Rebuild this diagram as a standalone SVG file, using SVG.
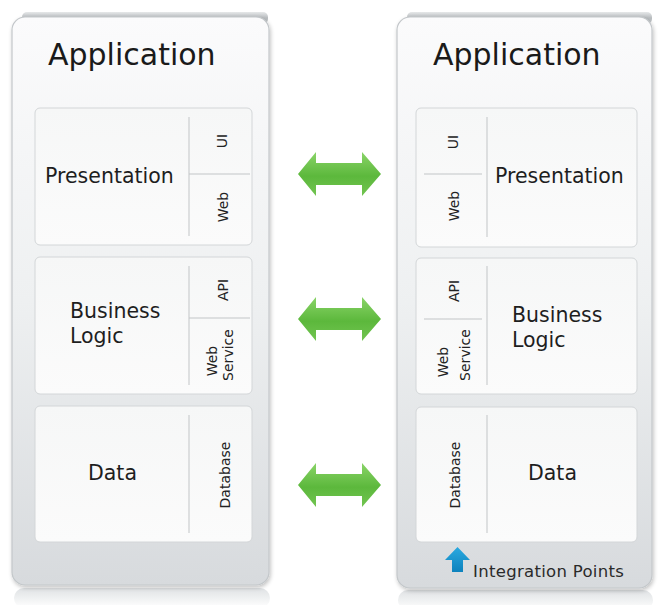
<svg xmlns="http://www.w3.org/2000/svg" width="658" height="605" viewBox="0 0 658 605">
<defs>
  <linearGradient id="panelGrad" x1="0" y1="0" x2="0" y2="1">
    <stop offset="0" stop-color="#fbfbfc"/>
    <stop offset="0.5" stop-color="#eef0f1"/>
    <stop offset="1" stop-color="#d7dadd"/>
  </linearGradient>
  <linearGradient id="topBand" x1="0" y1="0" x2="0" y2="1">
    <stop offset="0" stop-color="#e6e8e9"/>
    <stop offset="0.5" stop-color="#b8bcbf"/>
    <stop offset="1" stop-color="#c9cdd0"/>
  </linearGradient>
  <linearGradient id="reflect" x1="0" y1="0" x2="0" y2="1">
    <stop offset="0" stop-color="#dfe2e4"/>
    <stop offset="1" stop-color="#ffffff"/>
  </linearGradient>
  <linearGradient id="boxGrad" x1="0" y1="0" x2="0" y2="1">
    <stop offset="0" stop-color="#f6f7f7"/>
    <stop offset="1" stop-color="#fbfbfb"/>
  </linearGradient>
  <linearGradient id="greenGrad" x1="0" y1="0" x2="0" y2="1">
    <stop offset="0" stop-color="#8ad468"/>
    <stop offset="0.55" stop-color="#5cb83c"/>
    <stop offset="1" stop-color="#72c451"/>
  </linearGradient>
  <linearGradient id="blueGrad" x1="0" y1="0" x2="0" y2="1">
    <stop offset="0" stop-color="#2aa9e0"/>
    <stop offset="1" stop-color="#0d82bd"/>
  </linearGradient>
  <path id="dblArrow" d="M-41,0 L-23,-22 L-23,-11 L23,-11 L23,-22 L42,0 L23,22 L23,11 L-23,11 L-23,22 Z"/>
  <filter id="softShadow" x="-10%" y="-10%" width="120%" height="120%">
    <feGaussianBlur in="SourceAlpha" stdDeviation="2"/>
    <feOffset dx="1" dy="2"/>
    <feComponentTransfer><feFuncA type="linear" slope="0.25"/></feComponentTransfer>
    <feMerge><feMergeNode/><feMergeNode in="SourceGraphic"/></feMerge>
  </filter>
</defs>
<style>
  .panel { fill: url(#panelGrad); stroke: #c3c7ca; stroke-width: 1.2; }
  .band { fill: url(#topBand); }
  .reflect { fill: url(#reflect); }
  .box { fill: url(#boxGrad); stroke: #d3d6d8; stroke-width: 1; }
  .div { stroke: #c2c5c7; stroke-width: 1; fill: none; }
  .title { font-family: "DejaVu Sans", Verdana, sans-serif; font-size: 30px; fill: #1a1a1a; }
  .label { font-family: "DejaVu Sans", Verdana, sans-serif; font-size: 20.5px; fill: #1e1e1e; }
  .small { font-family: "DejaVu Sans", Verdana, sans-serif; font-size: 14px; fill: #222; text-anchor: middle; }
  .legend { font-family: "DejaVu Sans", Verdana, sans-serif; font-size: 16.5px; letter-spacing: 0.3px; fill: #2a2a2a; }
  .green { fill: url(#greenGrad); }
</style>

<g id="app-left">
  <rect class="reflect" x="14" y="588" width="256" height="20" rx="10"/>
  <rect class="band" x="22" y="12" width="246" height="12" rx="5"/>
  <rect class="panel" x="12" y="17" width="257" height="568" rx="13" filter="url(#softShadow)"/>
  <text class="title" x="48" y="65">Application</text>
</g>

<g id="app-right">
  <rect class="reflect" x="398" y="590" width="255" height="20" rx="10"/>
  <rect class="band" x="407" y="12" width="245" height="12" rx="5"/>
  <rect class="panel" x="397" y="17" width="255" height="571" rx="13" filter="url(#softShadow)"/>
  <text class="title" x="433" y="65">Application</text>
</g>

<g id="left-presentation">
  <rect class="box" x="35" y="108" width="217" height="137" rx="5"/>
  <line class="div" x1="189" y1="117" x2="189" y2="236"/>
  <line class="div" x1="189" y1="174" x2="250" y2="174"/>
  <text class="label" x="45" y="183">Presentation</text>
  <text class="small" transform="translate(227,141) rotate(-90)">UI</text>
  <text class="small" transform="translate(228,207) rotate(-90)">Web</text>
</g>

<g id="left-business">
  <rect class="box" x="35" y="257" width="217" height="137" rx="5"/>
  <line class="div" x1="189" y1="266" x2="189" y2="385"/>
  <line class="div" x1="189" y1="318" x2="250" y2="318"/>
  <text class="label" x="70" y="318">Business</text>
  <text class="label" x="70" y="343">Logic</text>
  <text class="small" transform="translate(228,290) rotate(-90)">API</text>
  <text class="small" transform="translate(217,361) rotate(-90)">Web</text>
  <text class="small" transform="translate(233,355) rotate(-90)">Service</text>
</g>

<g id="left-data">
  <rect class="box" x="35" y="406" width="217" height="136" rx="5"/>
  <line class="div" x1="189" y1="415" x2="189" y2="533"/>
  <text class="label" x="88" y="480">Data</text>
  <text class="small" transform="translate(230,475) rotate(-90)">Database</text>
</g>

<g id="right-presentation">
  <rect class="box" x="416" y="108" width="221" height="139" rx="5"/>
  <line class="div" x1="487" y1="117" x2="487" y2="237"/>
  <line class="div" x1="424" y1="174" x2="482" y2="174"/>
  <text class="label" x="495" y="183">Presentation</text>
  <text class="small" transform="translate(458,142) rotate(-90)">UI</text>
  <text class="small" transform="translate(459,206) rotate(-90)">Web</text>
</g>

<g id="right-business">
  <rect class="box" x="416" y="258" width="221" height="136" rx="5"/>
  <line class="div" x1="487" y1="266" x2="487" y2="385"/>
  <line class="div" x1="424" y1="319" x2="482" y2="319"/>
  <text class="label" x="512" y="322">Business</text>
  <text class="label" x="512" y="347">Logic</text>
  <text class="small" transform="translate(459,291) rotate(-90)">API</text>
  <text class="small" transform="translate(448,362) rotate(-90)">Web</text>
  <text class="small" transform="translate(470,355) rotate(-90)">Service</text>
</g>

<g id="right-data">
  <rect class="box" x="416" y="407" width="221" height="135" rx="5"/>
  <line class="div" x1="487" y1="415" x2="487" y2="533"/>
  <text class="label" x="528" y="480">Data</text>
  <text class="small" transform="translate(460,475) rotate(-90)">Database</text>
</g>

<g id="connectors">
  <use href="#dblArrow" class="green" transform="translate(339,174)"/>
  <use href="#dblArrow" class="green" transform="translate(339,319)"/>
  <use href="#dblArrow" class="green" transform="translate(339,485)"/>
</g>

<g id="legend">
  <path d="M445,560 L457.5,547 L470,560 L463,560 L463,572 L452,572 L452,560 Z" fill="url(#blueGrad)"/>
  <text class="legend" x="473" y="577">Integration Points</text>
</g>
</svg>
